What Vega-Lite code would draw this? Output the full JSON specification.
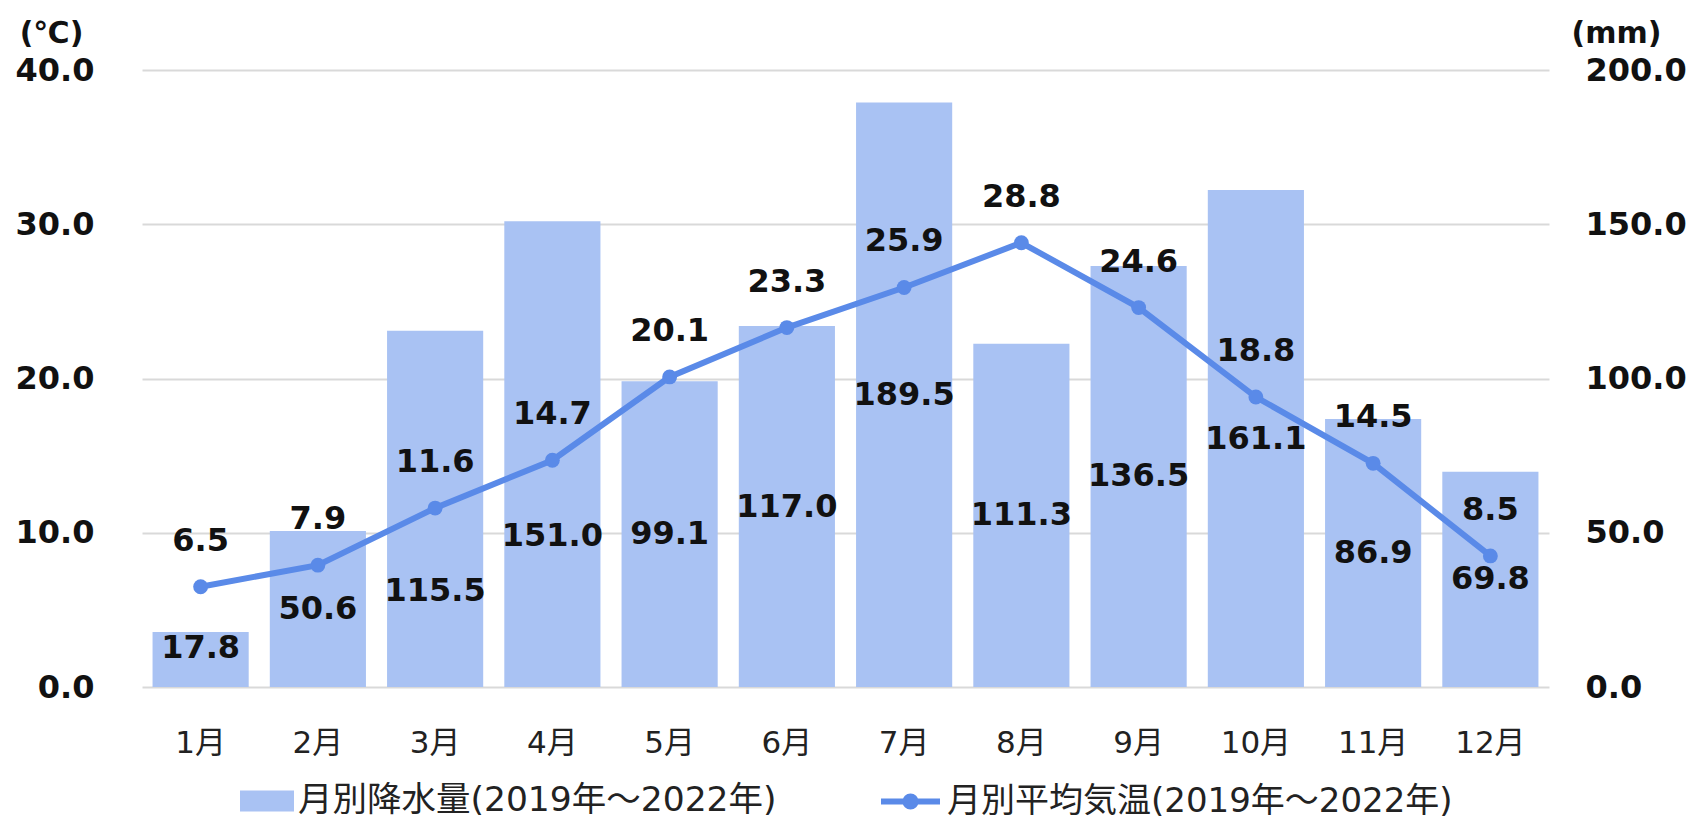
{
  "$schema": "https://vega.github.io/schema/vega-lite/v6.json",
  "width": 1407,
  "height": 617,
  "autosize": {"type": "none"},
  "padding": {"left": 142, "top": 70, "right": 144, "bottom": 132},
  "background": "white",
  "config": {"view": {"stroke": null}},
  "data": {"values": [
    {"month": "1月", "rain": 17.8, "temp": 6.5},
    {"month": "2月", "rain": 50.6, "temp": 7.9},
    {"month": "3月", "rain": 115.5, "temp": 11.6},
    {"month": "4月", "rain": 151.0, "temp": 14.7},
    {"month": "5月", "rain": 99.1, "temp": 20.1},
    {"month": "6月", "rain": 117.0, "temp": 23.3},
    {"month": "7月", "rain": 189.5, "temp": 25.9},
    {"month": "8月", "rain": 111.3, "temp": 28.8},
    {"month": "9月", "rain": 136.5, "temp": 24.6},
    {"month": "10月", "rain": 161.1, "temp": 18.8},
    {"month": "11月", "rain": 86.9, "temp": 14.5},
    {"month": "12月", "rain": 69.8, "temp": 8.5}
  ]},
  "encoding": {
    "x": {
      "field": "month", "type": "nominal", "sort": null,
      "scale": {"paddingInner": 0.18, "paddingOuter": 0.09},
      "axis": {"title": null, "labelAngle": 0, "ticks": false, "tickSize": 0, "domain": false,
               "labelPadding": 56, "labelBaseline": "middle", "labelFont": "DejaVu Sans, Noto Sans CJK JP",
               "labelFontSize": 31, "labelColor": "#222222"}
    }
  },
  "layer": [
    {
      "mark": {"type": "bar"},
      "encoding": {
        "y": {"field": "rain", "type": "quantitative", "scale": {"domain": [0, 200]},
              "axis": {"orient": "right", "values": [0, 50, 100, 150, 200], "format": ".1f", "grid": false,
                       "domain": false, "ticks": false, "tickSize": 0, "labelPadding": 36,
                       "labelFont": "DejaVu Sans", "labelFontWeight": "bold", "labelFontSize": 32, "labelColor": "#111111",
                       "title": "(mm)", "titleAngle": 0, "titleX": 67, "titleY": -37, "titleAlign": "center",
                       "titleBaseline": "middle", "titleFont": "DejaVu Sans", "titleFontWeight": "bold",
                       "titleFontSize": 30, "titleColor": "#111111"}},
        "fill": {"datum": "月別降水量(2019年～2022年)", "type": "nominal", "scale": {"range": ["#A9C2F3"]},
                 "legend": {"title": null, "orient": "none", "legendX": 98, "legendY": 704,
                            "symbolType": "M-1,-0.39 L1,-0.39 L1,0.39 L-1,0.39 Z", "symbolSize": 2916,
                            "symbolStrokeWidth": 0, "labelFont": "DejaVu Sans, Noto Sans CJK JP", "labelFontSize": 34.5,
                            "labelColor": "#222222", "labelOffset": 4, "labelLimit": 800}}
      }
    },
    {
      "mark": {"type": "line", "strokeWidth": 6},
      "encoding": {
        "y": {"field": "temp", "type": "quantitative", "scale": {"domain": [0, 40]},
              "axis": {"orient": "left", "values": [0, 10, 20, 30, 40], "format": ".1f", "grid": true,
                       "gridColor": "#D9D9D9", "gridWidth": 2,
                       "domain": false, "ticks": false, "tickSize": 0, "labelPadding": 48,
                       "labelFont": "DejaVu Sans", "labelFontWeight": "bold", "labelFontSize": 32, "labelColor": "#111111",
                       "title": "(℃)", "titleAngle": 0, "titleX": -91, "titleY": -37, "titleAlign": "center",
                       "titleBaseline": "middle", "titleFont": "DejaVu Sans", "titleFontWeight": "bold",
                       "titleFontSize": 30, "titleColor": "#111111"}},
        "stroke": {"datum": "月別平均気温(2019年～2022年)", "type": "nominal", "scale": {"range": ["#5A8AE8"]},
                   "legend": {"title": null, "orient": "none", "legendX": 736, "legendY": 699,
                              "symbolType": "M-1,0 L1,0 M-0.17,0 A0.17,0.17 0 1,0 0.17,0 A0.17,0.17 0 1,0 -0.17,0 Z",
                              "symbolSize": 3481, "symbolStrokeWidth": 6, "symbolFillColor": "#5A8AE8",
                              "labelFont": "DejaVu Sans, Noto Sans CJK JP", "labelFontSize": 34,
                              "labelColor": "#222222", "labelOffset": 4, "labelLimit": 800,
                              "encode": {"symbols": {"update": {"fill": {"value": "#5A8AE8"}, "stroke": {"value": "#5A8AE8"}, "strokeWidth": {"value": 6}}}}}}
      }
    },
    {
      "mark": {"type": "point", "filled": true, "opacity": 1, "size": 220, "color": "#5A8AE8"},
      "encoding": {
        "y": {"field": "temp", "type": "quantitative", "scale": {"domain": [0, 40]}, "axis": null}
      }
    },
    {
      "mark": {"type": "text", "dy": -46, "font": "DejaVu Sans", "fontWeight": "bold", "fontSize": 32, "color": "#111111", "baseline": "middle"},
      "encoding": {
        "y": {"field": "temp", "type": "quantitative", "scale": {"domain": [0, 40]}, "axis": null},
        "text": {"field": "temp", "type": "quantitative", "format": ".1f"}
      }
    },
    {
      "transform": [{"filter": "datum.month !== '1月' && datum.month !== '3月' && datum.month !== '4月'"}],
      "mark": {"type": "text", "font": "DejaVu Sans", "fontWeight": "bold", "fontSize": 32, "color": "#111111", "baseline": "middle"},
      "encoding": {
        "y": {"field": "rain", "type": "quantitative", "scale": {"domain": [0, 400]}, "axis": null},
        "text": {"field": "rain", "type": "quantitative", "format": ".1f"}
      }
    },
    {
      "transform": [{"filter": "datum.month === '1月'"}],
      "mark": {"type": "text", "dy": -12, "font": "DejaVu Sans", "fontWeight": "bold", "fontSize": 32, "color": "#111111", "baseline": "middle"},
      "encoding": {
        "y": {"field": "rain", "type": "quantitative", "scale": {"domain": [0, 400]}, "axis": null},
        "text": {"field": "rain", "type": "quantitative", "format": ".1f"}
      }
    },
    {
      "transform": [{"filter": "datum.month === '3月' || datum.month === '4月'"}],
      "mark": {"type": "text", "dy": 82, "font": "DejaVu Sans", "fontWeight": "bold", "fontSize": 32, "color": "#111111", "baseline": "middle"},
      "encoding": {
        "y": {"field": "rain", "type": "quantitative", "scale": {"domain": [0, 400]}, "axis": null},
        "text": {"field": "rain", "type": "quantitative", "format": ".1f"}
      }
    }
  ],
  "resolve": {"scale": {"y": "independent"}}
}
